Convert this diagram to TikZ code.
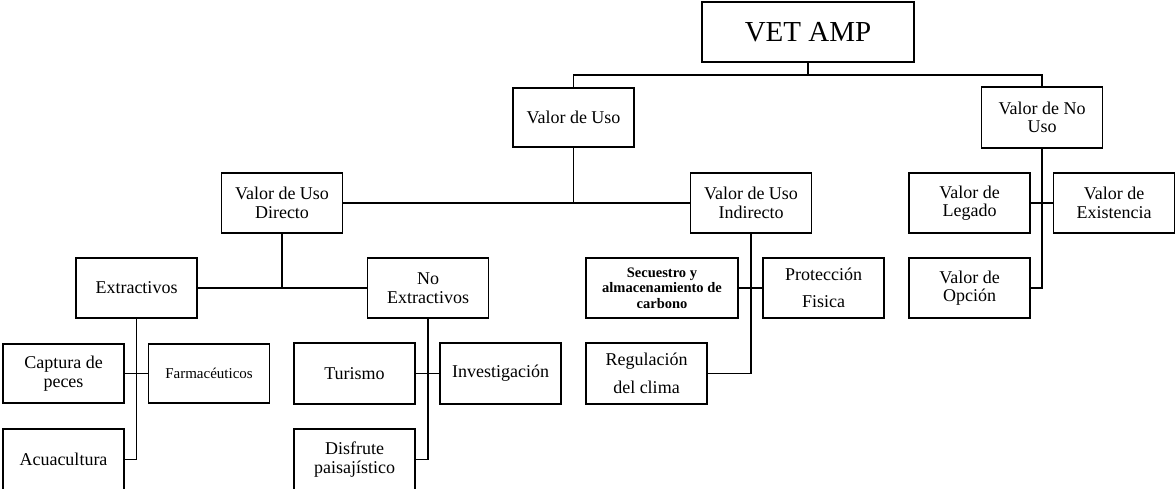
\documentclass[tikz,border=0pt]{standalone}
\usepackage{fontspec}
\setmainfont{Liberation Serif}
\begin{document}
\begin{tikzpicture}[x=1pt,y=-1pt,
  box/.style={draw,line width=1.3pt,rectangle,inner sep=0pt,outer sep=0pt,
    minimum width=121pt,minimum height=60pt,align=center,
    font=\fontsize{18}{18.5}\selectfont},
  conn/.style={line width=1.1pt},
  thick conn/.style={line width=1.8pt}]
\clip (0,0) rectangle (1175,489);
\useasboundingbox (0,0) rectangle (1175,489);
% level 0
\node[box,minimum width=212pt,font=\fontsize{29}{30}\selectfont] (vet) at (808,32) {VET AMP};
% level 1
\node[box,minimum height=59pt] (uso) at (573.5,117.5) {Valor de Uso};
\node[box,minimum height=61pt] (nouso) at (1042,117.5) {Valor de No\\Uso};
% level 2
\node[box] (directo) at (282,203) {Valor de Uso\\Directo};
\node[box] (indirecto) at (751,203) {Valor de Uso\\Indirecto};
\node[box] (legado) at (969.5,203) {Valor de\\Legado};
\node[box] (existencia) at (1114,203) {Valor de\\Existencia};
% level 3
\node[box] (extractivos) at (136.5,288) {Extractivos};
\node[box] (noextr) at (428,288) {No\\Extractivos};
\node[box,minimum width=152pt,font=\bfseries\fontsize{14.5}{15.5}\selectfont] (secuestro) at (662,288) {Secuestro y\\almacenamiento de\\carbono};
\node[box] (proteccion) at (823.5,288) {Protección\\[9pt]Fisica};
\node[box] (opcion) at (969.5,288) {Valor de\\Opción};
% level 4
\node[box,minimum height=59pt] (captura) at (63.5,373.5) {Captura de\\peces};
\node[box,minimum height=59pt,font=\fontsize{15}{16}\selectfont] (farmac) at (209,373.5) {Farmacéuticos};
\node[box,minimum height=61pt] (turismo) at (354.5,373.5) {Turismo};
\node[box,minimum height=61pt] (investig) at (500.5,373.5) {Investigación};
\node[box,minimum height=61pt] (regulacion) at (646.5,373.5) {Regulación\\[9pt]del clima};
% level 5
\node[box,minimum height=61pt] (acuacultura) at (63.5,459.5) {Acuacultura};
\node[box,minimum height=61pt] (disfrute) at (354.5,459.5) {Disfrute\\paisajístico};
% connectors
\coordinate (b0) at (808,75);
\draw[conn] (vet.south) -- (b0);
\draw[conn] (uso.north) |- (b0) -| (nouso.north);
\draw[conn] (directo.east) -- (indirecto.west);
\draw[conn] (uso.south) -- (uso.south |- directo.east);
\draw[conn] (extractivos.east) -- (noextr.west);
\draw[conn] (directo.south) -- (directo.south |- extractivos.east);
\draw[conn] (captura.east) -- (farmac.west);
\draw[thick conn] (extractivos.south) |- (acuacultura.east);
\draw[conn] (turismo.east) -- (investig.west);
\draw[thick conn] (noextr.south) |- (disfrute.east);
\draw[conn] (secuestro.east) -- (proteccion.west);
\draw[thick conn] (indirecto.south) |- (regulacion.east);
\draw[conn] (legado.east) -- (existencia.west);
\draw[conn] (nouso.south) |- (opcion.east);
\end{tikzpicture}
\end{document}
